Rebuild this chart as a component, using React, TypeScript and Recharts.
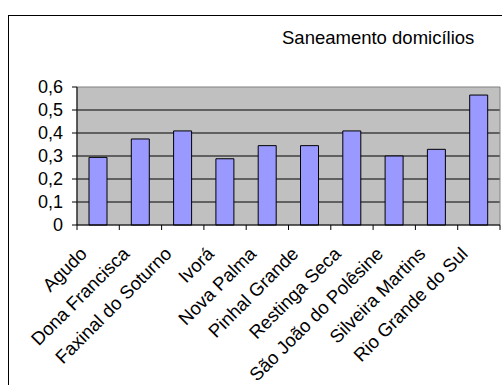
import React from "react";
import { Bar, BarChart, CartesianGrid, ReferenceArea, XAxis, YAxis } from "recharts";

const municipios = [
  "Agudo",
  "Dona Francisca",
  "Faxinal do Soturno",
  "Ivorá",
  "Nova Palma",
  "Pinhal Grande",
  "Restinga Seca",
  "São João do Polêsine",
  "Silveira Martins",
  "Rio Grande do Sul",
];
const saneamento = [0.294, 0.374, 0.409, 0.288, 0.345, 0.345, 0.409, 0.3, 0.329, 0.565];
const yTicks = [0, 0.1, 0.2, 0.3, 0.4, 0.5, 0.6];
const gridValues = [0.1, 0.2, 0.3, 0.4, 0.5];

const data = municipios.map((nome, i) => ({ nome, valor: saneamento[i] }));

const FONT = "'Liberation Sans', Arial, sans-serif";

const fmt = (v: number) => (v === 0 ? "0" : v.toFixed(1).replace(".", ","));

// category label rotated 45deg plus the tick mark on the left edge of its band
function CategoryTick(props: any) {
  const { x, y, payload, index, width } = props;
  const half = payload.offset ?? width / municipios.length / 2;
  const left = x - half;
  const ax = x - 10;
  const ay = y + 30;
  return (
    <g>
      <line x1={left} y1={y} x2={left} y2={y + 5} stroke="#000" />
      {index === municipios.length - 1 && (
        <line x1={x + half} y1={y} x2={x + half} y2={y + 5} stroke="#000" />
      )}
      <text
        x={ax}
        y={ay}
        transform={`rotate(-45 ${ax} ${ay})`}
        textAnchor="end"
        fontSize={18.5}
        fontFamily={FONT}
        fill="#000"
      >
        {payload.value}
      </text>
    </g>
  );
}

export default function App() {
  return (
    <div style={{ position: "relative", width: 502, height: 385, overflow: "hidden", background: "#fff" }}>
      <style>{`body{margin:0}`}</style>
      <div
        style={{
          position: "absolute",
          left: 8,
          top: 15,
          width: 600,
          height: 500,
          border: "1px solid #000",
        }}
      />
      <div
        style={{
          position: "absolute",
          left: 282,
          top: 27,
          fontFamily: FONT,
          fontSize: 18.5,
          color: "#000",
          whiteSpace: "nowrap",
        }}
      >
        Saneamento domicílios
      </div>
      <div style={{ position: "absolute", left: 0, top: 0 }}>
        <BarChart width={502} height={385} data={data} margin={{ top: 87, right: 2, left: 0, bottom: 0 }}>
          <CartesianGrid
            fill="#C0C0C0"
            fillOpacity={1}
            stroke="#000"
            vertical={false}
            horizontalValues={gridValues}
          />
          <ReferenceArea y1={0} y2={0.6} fill="none" stroke="#808080" strokeWidth={1} ifOverflow="visible" />
          <XAxis
            dataKey="nome"
            interval={0}
            height={160}
            axisLine={{ stroke: "#000" }}
            tickLine={false}
            tickSize={0}
            tickMargin={0}
            tick={<CategoryTick />}
          />
          <YAxis
            width={77}
            domain={[0, 0.6]}
            ticks={yTicks}
            interval={0}
            tickFormatter={fmt}
            axisLine={{ stroke: "#000" }}
            tickLine={{ stroke: "#000" }}
            tickSize={5}
            tickMargin={9}
            tick={{ fontSize: 18, fontFamily: FONT, fill: "#000" }}
          />
          <Bar dataKey="valor" fill="#9999FF" stroke="#000" strokeWidth={1} barSize={18} isAnimationActive={false} />
        </BarChart>
      </div>
    </div>
  );
}
